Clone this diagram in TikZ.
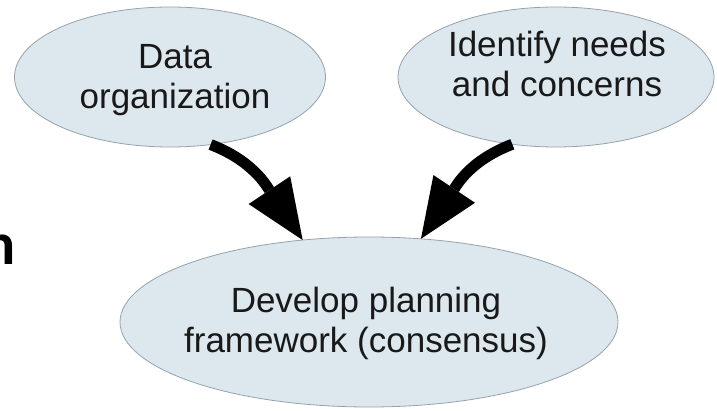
\documentclass[tikz,border=0pt]{standalone}
\usepackage{fontspec}
\setmainfont{Liberation Sans}
\newfontfamily\cutfont{Carlito}
\usetikzlibrary{arrows.meta,shapes.geometric}
\definecolor{blobfill}{RGB}{220,231,238}
\definecolor{blobline}{RGB}{150,162,172}
\definecolor{ink}{RGB}{25,25,25}
\begin{document}
\begin{tikzpicture}[x=1pt,y=1pt,
  blob/.style={ellipse, draw=blobline, fill=blobfill, line width=0.8pt, inner sep=0pt, outer sep=0pt},
  lbl/.style={align=center, text=ink, inner sep=0pt, font=\fontsize{35}{40}\selectfont},
  flow/.style={line width=11pt, draw=black, -{Triangle[length=60pt,width=50pt,line width=0pt]}}]
\useasboundingbox (0,0) rectangle (717,410);
\node[blob, minimum width=311pt, minimum height=140pt] (org) at (170,333) {};
\node[blob, minimum width=316pt, minimum height=140pt] (needs) at (556,333) {};
\node[blob, minimum width=498pt, minimum height=170pt] (dev) at (369,88) {};
\node[lbl] (orgtext) at (175,330) {Data\\organization};
\node[lbl] (needstext) at (557,346) {Identify needs\\and concerns};
\node[lbl] (devtext) at (366,86.5) {Develop planning\\framework (consensus)};
\node[font=\cutfont\bfseries\fontsize{60}{60}\selectfont, anchor=base east, inner sep=0pt, text=black] (cut) at (16,146) {n};
\draw[flow] (org.-59) .. controls +(42,-16) and +(-36,54) .. (dev.129);
\draw[flow] (needs.-123) .. controls +(-42,-16) and +(36,54) .. (dev.58);
\end{tikzpicture}
\end{document}
